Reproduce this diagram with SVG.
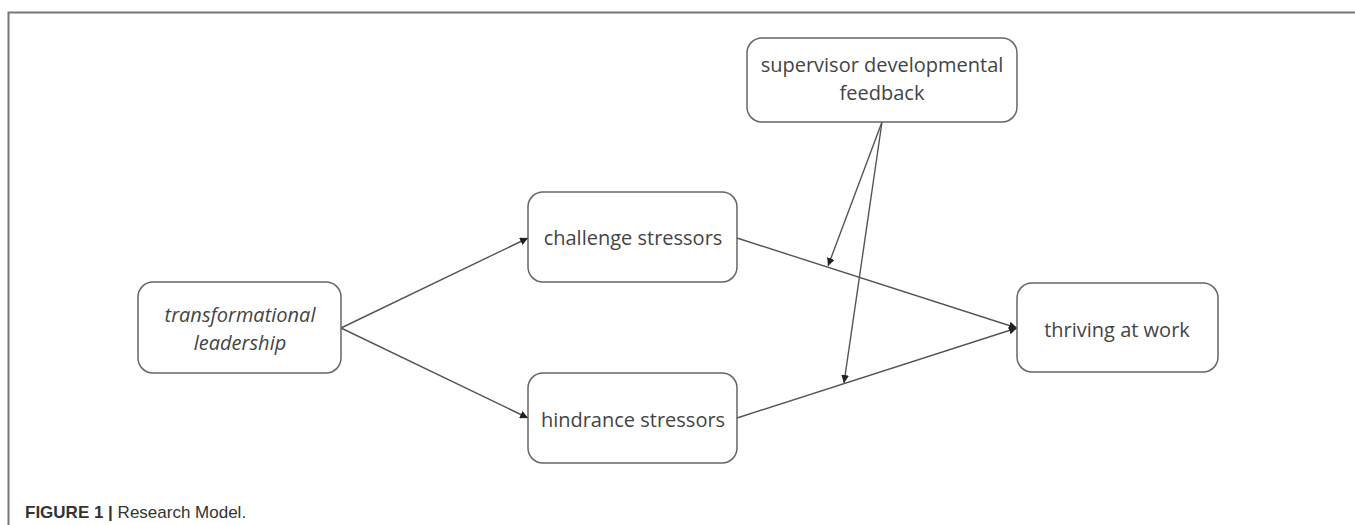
<svg xmlns="http://www.w3.org/2000/svg" width="1355" height="525" viewBox="0 0 1355 525">
<style>
.box{fill:#fff;stroke:#666;stroke-width:1.5}
.t{font-family:"Open Sans","Noto Sans",sans-serif;font-size:20px;fill:#444;text-anchor:middle}
.it{font-style:italic}
.c{stroke:#555;stroke-width:1.4;fill:none;marker-end:url(#ah)}
.frame{stroke:#777;stroke-width:2;fill:none}
.cap{font-family:"Liberation Sans",Arial,sans-serif;font-size:17px;fill:#333}
</style>
<defs>
<marker id="ah" viewBox="0 0 10 10" refX="10" refY="5" markerWidth="8" markerHeight="8" markerUnits="userSpaceOnUse" orient="auto">
<path d="M0,0 L10,5 L0,10 z" fill="#222"/>
</marker>
</defs>
<path class="frame" d="M8.5,525 V12.5 H1355"/>
<g id="connectors">
<line class="c" x1="341" y1="328" x2="528" y2="238"/>
<line class="c" x1="341" y1="328" x2="528" y2="418"/>
<line class="c" x1="737" y1="238" x2="1017" y2="328"/>
<line class="c" x1="737" y1="418" x2="1017" y2="328"/>
<line class="c" x1="882" y1="122" x2="828" y2="266"/>
<line class="c" x1="882" y1="122" x2="844" y2="383"/>
</g>
<g id="node-transformational">
<rect class="box" x="138" y="282" width="203" height="91" rx="15"/>
<text class="t it" x="240" y="322">transformational</text>
<text class="t it" x="240" y="350">leadership</text>
</g>
<g id="node-challenge">
<rect class="box" x="528" y="192" width="209" height="90" rx="15"/>
<text class="t" x="633" y="245">challenge stressors</text>
</g>
<g id="node-hindrance">
<rect class="box" x="528" y="373" width="209" height="90" rx="15"/>
<text class="t" x="633" y="427">hindrance stressors</text>
</g>
<g id="node-supervisor">
<rect class="box" x="747" y="38" width="270" height="84" rx="15"/>
<text class="t" x="882" y="72">supervisor developmental</text>
<text class="t" x="882" y="100">feedback</text>
</g>
<g id="node-thriving">
<rect class="box" x="1017" y="283" width="201" height="89" rx="15"/>
<text class="t" x="1117" y="337">thriving at work</text>
</g>
<text class="cap" x="25" y="518"><tspan font-weight="bold">FIGURE 1 |</tspan> Research Model.</text>
</svg>
